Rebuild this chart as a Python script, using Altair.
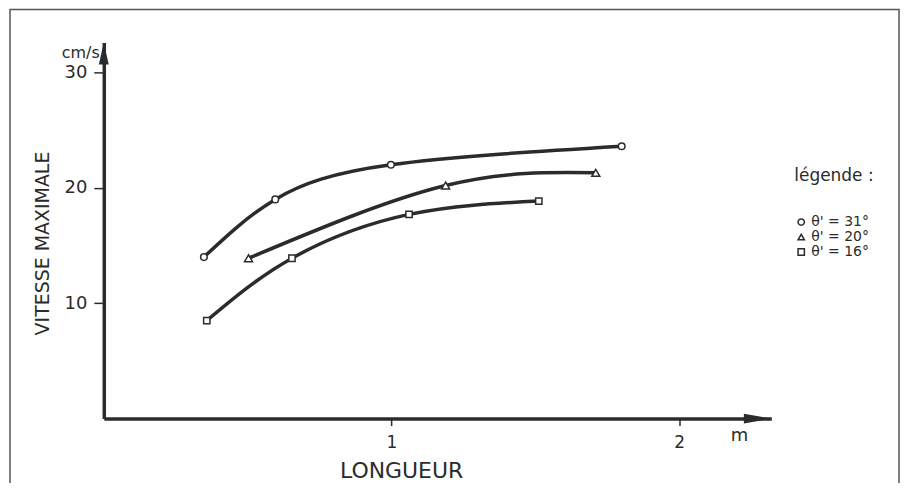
import altair as alt
import pandas as pd

# --- data ---
series_names = ["θ' = 31°", "θ' = 20°", "θ' = 16°"]
x31 = [0.348, 0.596, 0.998, 1.80]
y31 = [14.0, 19.0, 22.0, 23.6]
x20 = [0.503, 1.188, 1.71]
y20 = [13.9, 20.2, 21.3]
x16 = [0.358, 0.654, 1.061, 1.512]
y16 = [8.5, 13.9, 17.7, 18.85]
shapes = ["circle", "triangle-up", "square"]
marker_sizes = [44, 64, 40]
x_ticks = [1, 2]
y_ticks = [10, 20, 30]
X_MAX = 2.32
Y_MAX = 32.6

rows = []
for name, xs, ys, sz in zip(series_names, [x31, x20, x16], [y31, y20, y16], marker_sizes):
    for i, (a, b) in enumerate(zip(xs, ys)):
        rows.append({"serie": name, "longueur": a, "vitesse": b, "ordre": i, "taille": sz})
df = pd.DataFrame(rows)

INK = "#2b2b2b"
FONT = "DejaVu Sans"

xscale = alt.Scale(domain=[0, X_MAX], nice=False, zero=False)
yscale = alt.Scale(domain=[0, Y_MAX], nice=False, zero=False)

base = alt.Chart(df)

lines = base.mark_line(interpolate="natural", color=INK, strokeWidth=3.5).encode(
    x=alt.X("longueur:Q", scale=xscale,
            axis=alt.Axis(values=x_ticks, format="d", title="LONGUEUR", grid=False,
                          domainColor=INK, domainWidth=3.5, tickColor=INK,
                          tickWidth=1.5, tickSize=7, labelPadding=9,
                          labelFontSize=17, labelFont=FONT, labelColor=INK,
                          titleFont=FONT, titleFontSize=22, titleFontWeight="normal",
                          titleColor=INK, titleX=298, titleY=52,
                          titleBaseline="middle", titleAlign="center")),
    y=alt.Y("vitesse:Q", scale=yscale,
            axis=alt.Axis(values=y_ticks, format="d", title="VITESSE MAXIMALE", grid=False,
                          domainColor=INK, domainWidth=3.5, tickColor=INK,
                          tickWidth=1.5, tickSize=10, labelPadding=7,
                          labelFontSize=18, labelFont=FONT, labelColor=INK,
                          titleFont=FONT, titleFontSize=19, titleFontWeight="normal",
                          titleColor=INK, titleX=-61, titleY=201, titleAngle=-90,
                          titleBaseline="middle", titleAlign="center")),
    detail="serie:N",
    order="ordre:Q",
)

legend = alt.Legend(title="légende :", orient="none",
                    legendX=692, legendY=126,
                    titleFont=FONT, titleFontSize=17,
                    titleFontWeight="normal", titleColor=INK,
                    titlePadding=30, labelFont=FONT,
                    labelFontSize=14, labelColor=INK,
                    labelOffset=3, symbolSize=40,
                    symbolFillColor="white",
                    symbolStrokeWidth=1.5,
                    symbolOpacity=1,
                    rowPadding=1)

points = base.mark_point(filled=False, fill="white", strokeWidth=1.5,
                         opacity=1, fillOpacity=1).encode(
    x=alt.X("longueur:Q", scale=xscale),
    y=alt.Y("vitesse:Q", scale=yscale),
    size=alt.Size("taille:Q", scale=None),
    color=alt.Color("serie:N",
                    scale=alt.Scale(domain=series_names, range=[INK, INK, INK]),
                    legend=legend),
    shape=alt.Shape("serie:N",
                    scale=alt.Scale(domain=series_names, range=shapes),
                    legend=legend),
)

arrow_y = alt.Chart(pd.DataFrame({"a": [0]})).mark_point(
    shape="M0,0 L0.45,2 L-0.45,2 Z", size=484, filled=True, color=INK, opacity=1
).encode(x=alt.datum(0, scale=xscale), y=alt.datum(Y_MAX, scale=yscale))

arrow_x = alt.Chart(pd.DataFrame({"a": [0]})).mark_point(
    shape="M0,0 L-2.5,-0.45 L-2.5,0.45 Z", size=484, filled=True, color=INK, opacity=1
).encode(x=alt.datum(X_MAX, scale=xscale), y=alt.datum(0, scale=yscale))

unit_y = alt.Chart(pd.DataFrame({"t": ["cm/s"]})).mark_text(
    font=FONT, fontSize=16, color=INK, align="right", baseline="middle"
).encode(text="t:N", x=alt.value(-4), y=alt.value(11))

unit_x = alt.Chart(pd.DataFrame({"t": ["m"]})).mark_text(
    font=FONT, fontSize=18, color=INK, align="center", baseline="middle"
).encode(text="t:N", x=alt.value(637), y=alt.value(394))

frame = alt.Chart(pd.DataFrame({"a": [0]})).mark_rect(
    filled=False, fill=None, stroke="#555555", strokeWidth=1.5
).encode(x=alt.value(-94), x2=alt.value(797), y=alt.value(-33), y2=alt.value(470))

chart = alt.layer(frame, lines, points, arrow_y, arrow_x, unit_y, unit_x).properties(
    width=669, height=377,
    autosize=alt.AutoSizeParams(type="none"),
    padding={"left": 96, "top": 34, "right": 130, "bottom": 64},
    background="white",
).configure_view(stroke=None)

chart.save("out.html", embed_options={"renderer": "svg", "actions": False})
